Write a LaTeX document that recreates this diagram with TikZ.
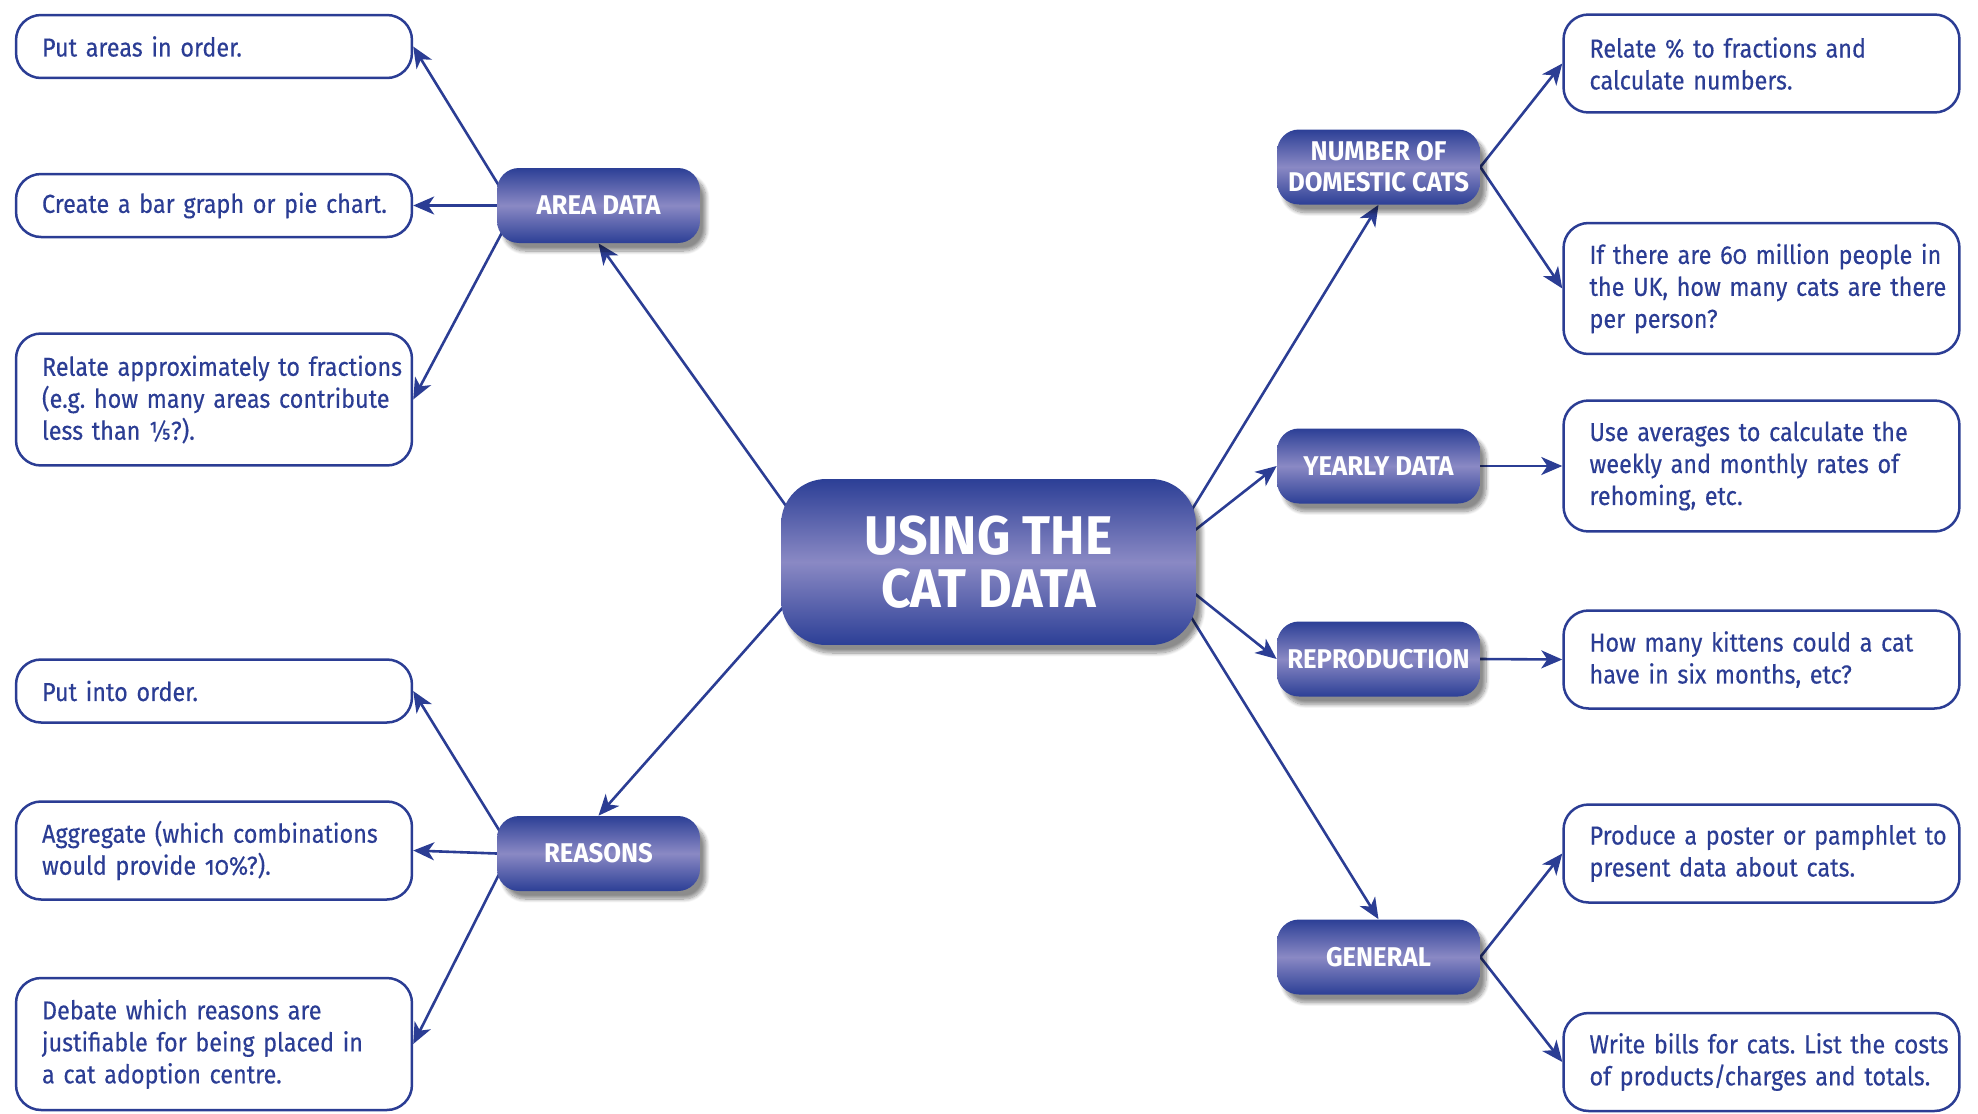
\documentclass[tikz,border=0pt]{standalone}
\usepackage{fontspec}
\setmainfont{Fira Sans}[FakeStretch=0.9, FakeBold=0.3, Numbers=OldStyle]
\newfontfamily\catfont{Fira Sans}[FakeStretch=0.95]
\usepackage{xcolor}
\usetikzlibrary{arrows.meta, shadows.blur, backgrounds}
\frenchspacing

\definecolor{catblue}{HTML}{2B3D94}
\definecolor{catdark}{HTML}{2C3F96}
\definecolor{catlight}{HTML}{8A89C4}

\tikzset{
  taskbox/.style={draw=catblue, line width=0.05cm, rounded corners=0.5cm, fill=white,
    text=catblue, minimum width=7.92cm, minimum height=1.26cm, text width=7.62cm,
    inner xsep=0.15cm, align=left, font=\fontsize{14.8}{18.2}\selectfont,
    execute at begin node={\leftskip=0.37cm \rightskip=-0.5cm plus 1fil }},
  catbox/.style={rounded corners=0.44cm, minimum width=4.06cm, minimum height=1.5cm,
    top color=catdark, bottom color=catdark, middle color=catlight, text=white,
    align=center, font=\catfont\bfseries\fontsize{15.4}{17.6}\selectfont,
    blur shadow={shadow xshift=0.12cm, shadow yshift=-0.16cm, shadow blur steps=10, shadow opacity=45}},
  link/.style={draw=catblue, line width=0.052cm, ->, shorten <=-0.3cm}
}

\begin{document}
\begin{tikzpicture}[x=0.02cm, y=-0.02cm, >={Stealth[length=0.42cm, width=0.36cm, inset=0.12cm]}]
\useasboundingbox (0,0) rectangle (1978,1113);

\node[catbox, rounded corners=0.9cm, minimum width=8.3cm, minimum height=3.32cm,
  font=\catfont\bfseries\fontsize{31}{30.4}\selectfont] (centre) at (988.5,562) {USING THE\\CAT DATA};

\node[catbox] (area) at (598.5,205.5) {AREA DATA};
\node[catbox] (reasons) at (598.5,853.5) {REASONS};
\node[catbox] (number) at (1378.5,167) {NUMBER OF\\DOMESTIC CATS};
\node[catbox] (yearly) at (1378.5,466) {YEARLY DATA};
\node[catbox] (repro) at (1378.5,659) {REPRODUCTION};
\node[catbox] (general) at (1378.5,957) {GENERAL};

\node[taskbox] (order) at (214,46.5) {Put areas in order.};
\node[taskbox] (graph) at (214,205.5) {Create a bar graph or pie chart.};
\node[taskbox, minimum height=2.64cm] (fractions) at (214,399.5)
  {Relate approximately to fractions\\(e.g. how many areas contribute\\less than {\addfontfeature{Fractions=On}1/5}?).};
\node[taskbox] (sort) at (214,691) {Put into order.};
\node[taskbox, minimum height=1.96cm] (aggregate) at (214,850.5)
  {Aggregate (which combinations\\would provide 10\%?).};
\node[taskbox, minimum height=2.64cm] (debate) at (214,1044)
  {Debate which reasons are\\justifiable for being placed in\\a cat adoption centre.};

\node[taskbox, minimum height=1.96cm] (percent) at (1761.5,63.5)
  {Relate \% to fractions and\\calculate numbers.};
\node[taskbox, minimum height=2.62cm] (perperson) at (1761.5,288.5)
  {If there are 60 million people in\\the UK, how many cats are there\\per person?};
\node[taskbox, minimum height=2.62cm] (averages) at (1761.5,466)
  {Use averages to calculate the\\weekly and monthly rates of\\rehoming, etc.};
\node[taskbox, minimum height=1.96cm] (kittens) at (1761.5,659.5)
  {How many kittens could a cat\\have in six months, etc?};
\node[taskbox, minimum height=1.96cm] (poster) at (1761.5,853.5)
  {Produce a poster or pamphlet to\\present data about cats.};
\node[taskbox, minimum height=1.96cm] (bills) at (1761.5,1062)
  {Write bills for cats. List the costs\\of products/charges and totals.};

\begin{scope}[on background layer]
\draw[link] (centre.163) -- (area.south);
\draw[link] (centre.193) -- (reasons.north);
\draw[link] (centre.16) -- (number.south);
\draw[link] (centre.9) -- (yearly.west);
\draw[link] (centre.-9) -- (repro.west);
\draw[link] (centre.-17) -- (general.north);

\draw[link] (area.167) -- (order.east);
\draw[link] (area.west) -- (graph.east);
\draw[link] (area.200) -- (fractions.east);
\draw[link] (reasons.165) -- (sort.east);
\draw[link] (reasons.west) -- (aggregate.east);
\draw[link] (reasons.194) -- (debate.east);

\draw[link] (number.east) -- (percent.west);
\draw[link] (number.east) -- (perperson.west);
\draw[link] (yearly.east) -- (averages.west);
\draw[link] (repro.east) -- (kittens.west);
\draw[link] (general.east) -- (poster.west);
\draw[link] (general.east) -- (bills.west);
\end{scope}
\end{tikzpicture}
\end{document}
